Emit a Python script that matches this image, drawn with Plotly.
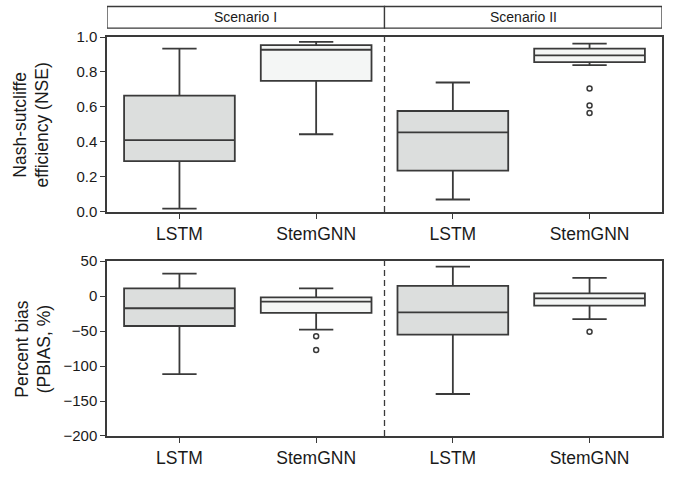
import plotly.graph_objects as go

# Categories (two models within each of two scenarios)
scenarios = ["Scenario I", "Scenario II"]
models = ["LSTM", "StemGNN"]
tick_labels = ["LSTM", "StemGNN", "LSTM", "StemGNN"]
positions = [0, 1, 2, 3]

# Nash-Sutcliffe efficiency summary statistics (SI-LSTM, SI-StemGNN, SII-LSTM, SII-StemGNN)
nse_low = [0.019, 0.444, 0.071, 0.839]
nse_q1 = [0.290, 0.749, 0.236, 0.856]
nse_med = [0.410, 0.927, 0.455, 0.895]
nse_q3 = [0.665, 0.953, 0.577, 0.934]
nse_high = [0.933, 0.972, 0.740, 0.962]
nse_out_pos = [3, 3, 3]
nse_out = [0.706, 0.608, 0.566]

# Percent bias summary statistics
pb_low = [-111.5, -47.9, -140.0, -32.9]
pb_q1 = [-42.8, -23.9, -55.0, -13.6]
pb_med = [-17.4, -7.9, -23.4, -3.2]
pb_q3 = [10.9, -1.8, 14.7, 3.8]
pb_high = [32.0, 10.9, 42.0, 26.0]
pb_out_pos = [1, 1, 3]
pb_out = [-57.3, -77.0, -51.0]

fills = ["#dcdedd", "#f4f6f5", "#dcdedd", "#f4f6f5"]
LINE = "#3a3a3a"
TXT = "#1a1a1a"
FONT = "Liberation Sans, Arial, sans-serif"

fig = go.Figure()


def add_boxes(low, q1, med, q3, high, xa, ya):
    for i, p in enumerate(positions):
        fig.add_trace(go.Box(
            x=[p], lowerfence=[low[i]], q1=[q1[i]], median=[med[i]],
            q3=[q3[i]], upperfence=[high[i]],
            width=0.81, whiskerwidth=0.31,
            fillcolor=fills[i], line=dict(color=LINE, width=1.8),
            boxpoints=False, showlegend=False, hoverinfo="skip",
            xaxis=xa, yaxis=ya,
        ))


add_boxes(nse_low, nse_q1, nse_med, nse_q3, nse_high, "x", "y")
add_boxes(pb_low, pb_q1, pb_med, pb_q3, pb_high, "x2", "y2")

outlier_marker = dict(symbol="circle-open", size=5, color=LINE, line=dict(width=1.5))
fig.add_trace(go.Scatter(
    x=nse_out_pos, y=nse_out, mode="markers", xaxis="x", yaxis="y",
    marker=outlier_marker, showlegend=False, hoverinfo="skip"))
fig.add_trace(go.Scatter(
    x=pb_out_pos, y=pb_out, mode="markers", xaxis="x2", yaxis="y2",
    marker=outlier_marker, showlegend=False, hoverinfo="skip"))

xcommon = dict(
    range=[-0.53, 3.53], tickmode="array", tickvals=positions, ticktext=tick_labels,
    ticks="outside", ticklen=5, tickcolor=LINE, tickwidth=1.2,
    showline=True, linecolor=LINE, linewidth=1.5, mirror=True,
    showgrid=False, zeroline=False,
    tickfont=dict(family=FONT, size=17.5, color=TXT),
)
ycommon = dict(
    ticks="outside", ticklen=5, tickcolor=LINE, tickwidth=1.2,
    showline=True, linecolor=LINE, linewidth=1.5, mirror=True,
    showgrid=False, zeroline=False,
    tickfont=dict(family=FONT, size=15, color=TXT),
)

fig.update_layout(
    width=673, height=477,
    margin=dict(l=107, r=9, t=37, b=34),
    paper_bgcolor="white", plot_bgcolor="white",
    xaxis=dict(domain=[0, 1], anchor="y", **xcommon),
    yaxis=dict(domain=[0.5616, 1], anchor="x", range=[0, 1.0],
               tickvals=[0, 0.2, 0.4, 0.6, 0.8, 1.0],
               ticktext=["0.0", "0.2", "0.4", "0.6", "0.8", "1.0"],
               **ycommon),
    xaxis2=dict(domain=[0, 1], anchor="y2", **xcommon),
    yaxis2=dict(domain=[0, 0.4384], anchor="x2", range=[-200, 50],
                tickvals=[-200, -150, -100, -50, 0, 50],
                ticktext=["\u2212200", "\u2212150", "\u2212100", "\u221250", "0", "50"],
                **ycommon),
)

# Rotated y-axis titles
title_font = dict(family=FONT, size=17.5, color=TXT)
fig.add_annotation(xref="paper", yref="y domain", x=-0.137, y=0.5,
                   text="Nash-sutcliffe<br>efficiency (NSE)", textangle=-90,
                   showarrow=False, font=title_font, xanchor="center", yanchor="middle")
fig.add_annotation(xref="paper", yref="y2 domain", x=-0.133, y=0.5,
                   text="Percent bias<br>(PBIAS, %)", textangle=-90,
                   showarrow=False, font=title_font, xanchor="center", yanchor="middle")

# Dashed separator between the two scenarios in each panel
for xr, yr in (("x", "y domain"), ("x2", "y2 domain")):
    fig.add_shape(type="line", xref=xr, yref=yr, x0=1.5, x1=1.5, y0=0, y1=1,
                  line=dict(color=LINE, width=1.3, dash="6px,4px"), layer="above")

# Scenario strip above the top panel
strip_y0, strip_y1 = 1.0222, 1.0764
for k, name in enumerate(scenarios):
    x0 = -0.53 if k == 0 else 1.5
    x1 = 1.5 if k == 0 else 3.53
    fig.add_shape(type="rect", xref="x", yref="paper", x0=x0, x1=x1,
                  y0=strip_y0, y1=strip_y1, fillcolor="white",
                  line=dict(color=LINE, width=1.3))
    fig.add_annotation(xref="x", yref="paper", x=(x0 + x1) / 2,
                       y=(strip_y0 + strip_y1) / 2, text=name, showarrow=False,
                       font=dict(family=FONT, size=14, color=TXT),
                       xanchor="center", yanchor="middle")

fig.write_html("out.html")
